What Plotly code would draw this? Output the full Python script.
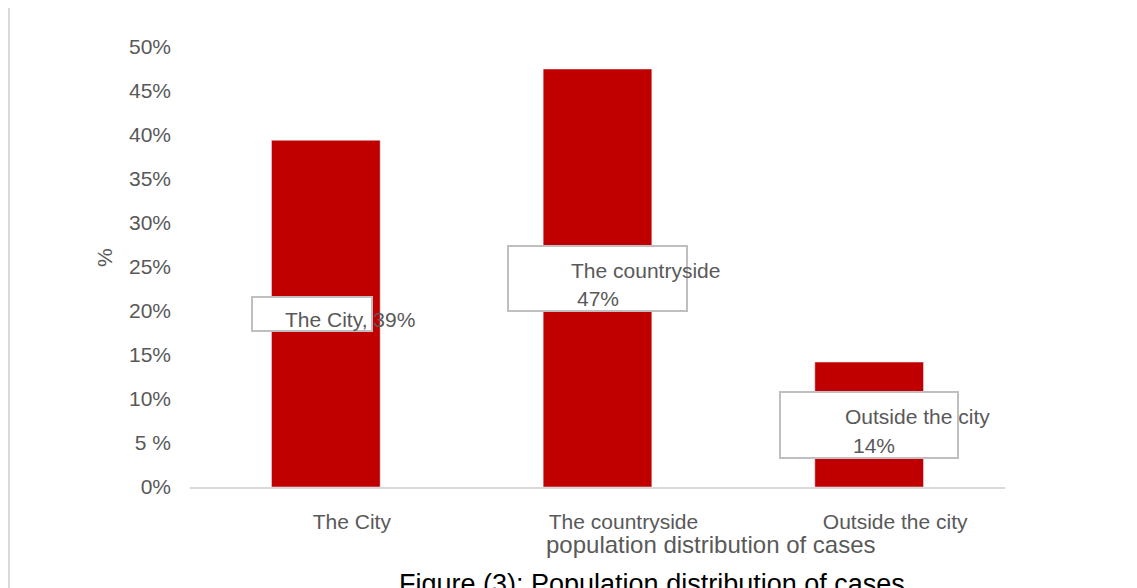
import plotly.graph_objects as go

categories = ["The City", "The countryside", "Outside the city"]
values = [0.394, 0.475, 0.142]
value_labels = ["39%", "47%", "14%"]
tick_vals = [0, 0.05, 0.10, 0.15, 0.20, 0.25, 0.30, 0.35, 0.40, 0.45, 0.50]
tick_text = ["0%", "5 %", "10%", "15%", "20%", "25%", "30%", "35%", "40%", "45%", "50%"]

# page has an 8px body margin; figure sized to fit the 1137x588 window
W, H = 1129, 580
L, R, T, B = 182, 132, 39, 101
PW, PH = W - L - R, H - T - B  # 815 x 440
FONT = "Liberation Sans, Arial, sans-serif"
GREY = "#595959"


def px(page_x):
    return (page_x - 8 - L) / PW


def py(page_y):
    return (H - B - (page_y - 8)) / PH


fig = go.Figure(go.Bar(
    x=categories, y=values, marker_color="#C00000", width=0.4,
    hoverinfo="x+y",
))

annotations = []
# label boxes: (w, h, box xshift, text lines [(text, xshift, yshift)])
box_specs = [
    (122, 36, -14, [(f"{categories[0]}, {value_labels[0]}", 24, -6)]),
    (181, 67, 0, [(categories[1], 48, 8), (value_labels[1], 0, -20)]),
    (180, 68, 0, [(categories[2], 48, 8), (value_labels[2], 5, -21)]),
]
for cat, v, (bw, bh, bxs, lines) in zip(categories, values, box_specs):
    annotations.append(dict(
        x=cat, y=v / 2, xref="x", yref="y", text="", showarrow=False,
        width=bw - 4, height=bh - 4, bgcolor="white", bordercolor="#BFBFBF",
        borderwidth=2, borderpad=0, xshift=bxs,
    ))
    for txt, xs, ys in lines:
        annotations.append(dict(
            x=cat, y=v / 2, xref="x", yref="y", text=txt, showarrow=False,
            xshift=xs, yshift=ys, font=dict(family=FONT, size=21, color=GREY),
        ))

annotations.append(dict(
    x=px(105), y=py(258), xref="paper", yref="paper", xanchor="center", yanchor="middle",
    text="%", textangle=-90, showarrow=False,
    font=dict(family=FONT, size=21, color=GREY),
))
annotations.append(dict(
    x=px(711), y=py(544), xref="paper", yref="paper", xanchor="center", yanchor="middle",
    text="population distribution of cases", showarrow=False,
    font=dict(family=FONT, size=24, color=GREY),
))
annotations.append(dict(
    x=px(652), y=py(584), xref="paper", yref="paper", xanchor="center", yanchor="middle",
    text="Figure (3): Population distribution of cases", showarrow=False,
    font=dict(family=FONT, size=27, color="#000000"),
))

fig.update_layout(
    width=W, height=H,
    margin=dict(l=L, r=R, t=T, b=B),
    paper_bgcolor="white", plot_bgcolor="white",
    showlegend=False,
    annotations=annotations,
    shapes=[dict(
        type="line", xref="paper", yref="paper",
        x0=px(9), x1=px(9), y0=py(8), y1=py(600),
        line=dict(color="#D9D9D9", width=2),
    )],
    xaxis=dict(
        showgrid=False, showline=True, linecolor="#D9D9D9", linewidth=1.5,
        ticks="", tickfont=dict(family=FONT, size=21, color=GREY),
        ticklabelstandoff=15, ticklabelshift=26,
    ),
    yaxis=dict(
        range=[0, 0.5], showgrid=False, showline=False, zeroline=False,
        tickvals=tick_vals, ticktext=tick_text, ticks="",
        tickfont=dict(family=FONT, size=21, color=GREY),
        ticklabelstandoff=18,
    ),
)

fig.write_html("out.html")
